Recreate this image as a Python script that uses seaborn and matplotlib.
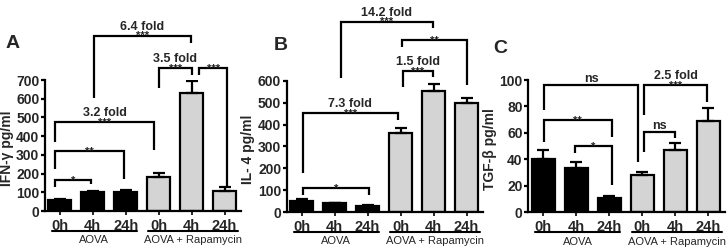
import numpy as np
import pandas as pd
import matplotlib
matplotlib.use("Agg")
import matplotlib.pyplot as plt
import seaborn as sns

# bar data
conds = ["0h", "4h", "24h", "0h", "4h", "24h"]
groups = ["AOVA"] * 3 + ["AOVA + Rapamycin"] * 3

ifn_vals = [60, 100, 102, 180, 630, 105]
ifn_err = [6, 5, 8, 25, 67, 22]

il4_vals = [52, 40, 28, 362, 555, 500]
il4_err = [6, 3, 5, 25, 30, 22]

tgf_vals = [40, 33, 10.5, 28, 47, 69]
tgf_err = [7, 5, 1.5, 2.5, 5.5, 10]

# significance brackets: x1, x2, top, left-leg end, right-leg end, stars, note
ifn_brackets = [
    (-0.14, 0.95, 166, 128, 144, "*", None),
    (-0.14, 1.95, 321, 224, 171, "**", None),
    (-0.14, 2.86, 474, 369, 326, "***", "3.2 fold"),
    (1.05, 3.97, 937, 602, 898, "***", "6.4 fold"),
    (3.02, 4.0, 764, 657, 727, "***", "3.5 fold"),
    (4.23, 5.08, 764, 727, 123, "***", None),
]
il4_brackets = [
    (0.03, 2.04, 110, 78, 78, "*", None),
    (0.03, 2.93, 452, 179, 421, "***", "7.3 fold"),
    (1.19, 3.99, 872, 612, 841, "***", "14.2 fold"),
    (3.06, 3.99, 646, 573, 618, "***", "1.5 fold"),
    (3.03, 5.02, 788, 757, 582, "**", None),
]
tgf_brackets = [
    (0.96, 2.07, 50, 45, 20.5, "*", None),
    (0.02, 2.07, 69.7, 53.3, 57, "**", None),
    (0.02, 2.88, 96.2, 77.3, 38, None, "ns"),
    (3.05, 3.99, 60.8, 45.7, 55.8, None, "ns"),
    (3.05, 4.97, 96.2, 73.5, 83.6, "***", "2.5 fold"),
]

sns.set_style("ticks")
plt.rcParams["font.family"] = ["Liberation Sans", "DejaVu Sans"]
plt.rcParams["font.weight"] = "bold"

fig = plt.figure(figsize=(7.27, 2.47), dpi=100)


def bracket(ax, b):
    x1, x2, top, lb, rb, stars, note = b
    ax.plot([x1, x1, x2, x2], [lb, top, top, rb], color="black", lw=1.6,
            clip_on=False, solid_joinstyle="miter", solid_capstyle="butt")
    xm = (x1 + x2) / 2
    if stars:
        ax.annotate(stars, (xm, top), xytext=(0, -2.6), textcoords="offset points",
                    ha="center", va="baseline", fontsize=8, fontweight="bold",
                    annotation_clip=False)
    if note:
        off = 2 if note == "ns" else 4.4
        ax.annotate(note, (xm, top), xytext=(0, off), textcoords="offset points",
                    ha="center", va="baseline", fontsize=9, fontweight="bold",
                    annotation_clip=False)


def panel(rect, vals, errs, ymax, ystep, ylabel, letter, letter_xy, brackets):
    ax = fig.add_axes(rect)
    df = pd.DataFrame({"cond": [g + " " + c for g, c in zip(groups, conds)],
                       "val": vals, "grp": groups})
    sns.barplot(data=df, x="cond", y="val", hue="grp",
                palette={"AOVA": "black", "AOVA + Rapamycin": "#d4d4d4"},
                dodge=False, width=0.7, edgecolor="black", linewidth=1.6,
                errorbar=None, legend=False, ax=ax)
    x = np.arange(len(vals))
    ax.errorbar(x, vals, yerr=[np.zeros(len(errs)), errs], fmt="none",
                ecolor="black", elinewidth=1.6, capsize=4.3, capthick=1.6, zorder=3)
    ax.set_xlim(-0.45, 5.5)
    ax.set_ylim(0, ymax)
    ax.set_yticks(np.arange(0, ymax + 1, ystep))
    ax.set_xticks(x)
    ax.set_xticklabels(conds)
    ax.set_xlabel("")
    ax.set_ylabel(ylabel, fontsize=10, fontweight="bold")
    ax.yaxis.set_label_coords(-0.16, 0.48)
    for s in ["top", "right"]:
        ax.spines[s].set_visible(False)
    for s in ["left", "bottom"]:
        ax.spines[s].set_linewidth(1.6)
        ax.spines[s].set_color("black")
    ax.tick_params(axis="y", length=3, width=1.6, labelsize=10, pad=1, color="black")
    ax.tick_params(axis="x", length=3, width=1.2, labelsize=10.5, pad=3, color="black")
    for lab in ax.get_xticklabels() + ax.get_yticklabels():
        lab.set_fontweight("bold")
    # group underlines and labels
    tr = ax.get_xaxis_transform()
    for (a, b), name in [((-0.24, 2.34), "AOVA"), ((2.68, 5.41), "AOVA + Rapamycin")]:
        ax.plot([a, b], [-0.153, -0.153], transform=tr, color="black", lw=1.5, clip_on=False)
        ax.text((a + b) / 2, -0.225, name, transform=tr, ha="center", va="center",
                fontsize=8, fontweight="normal")
    for b in brackets:
        bracket(ax, b)
    fig.text(letter_xy[0], letter_xy[1], letter, fontsize=14, fontweight="bold",
             ha="center", va="center")
    return ax


panel([45 / 727, 36 / 247, 196 / 727, 131 / 247], ifn_vals, ifn_err, 700, 100,
      "IFN-γ pg/ml", "A", (12.5 / 727, 1 - 43.5 / 247), ifn_brackets)
panel([286.7 / 727, 35 / 247, 196.3 / 727, 131 / 247], il4_vals, il4_err, 600, 100,
      "IL- 4 pg/ml", "B", (280.5 / 727, 1 - 46 / 247), il4_brackets)
panel([528.3 / 727, 35 / 247, 196.5 / 727, 132 / 247], tgf_vals, tgf_err, 100, 20,
      "TGF-β pg/ml", "C", (500 / 727, 1 - 48 / 247), tgf_brackets)

fig.savefig("out.png", dpi=100)
